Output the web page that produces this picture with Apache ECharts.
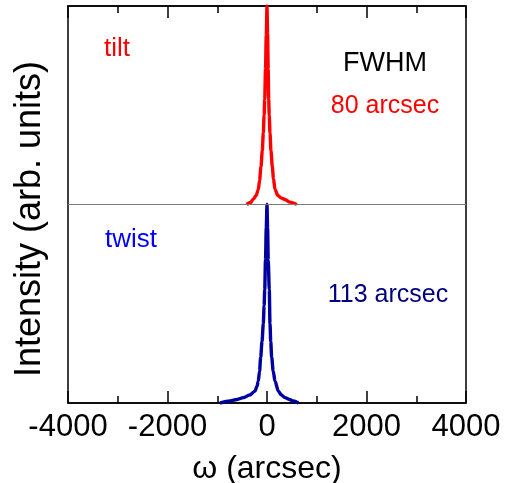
<!DOCTYPE html>
<html>
<head>
<meta charset="utf-8">
<script src="https://cdn.jsdelivr.net/npm/echarts@6/dist/echarts.min.js"></script>
<style>
  html, body { margin: 0; padding: 0; background: #ffffff; }
  #chart { width: 508px; height: 483px; }
</style>
</head>
<body>
<div id="chart"></div>
<script>
// Rocking curves: tilt (upper panel) and twist (lower panel), normalised intensity
const tiltOmega = [-410, -330, -280, -220, -175, -150, -121, -95, -74, -58, -46, -30, -15, 0, 12, 24, 34, 45, 60, 80, 107, 130, 161, 220, 290, 362, 460, 600];
const tiltIntensity = [0, 0.01, 0.025, 0.045, 0.075, 0.12, 0.19, 0.27, 0.36, 0.45, 0.53, 0.68, 0.85, 1.0, 0.86, 0.68, 0.53, 0.45, 0.36, 0.27, 0.19, 0.13, 0.075, 0.045, 0.032, 0.025, 0.012, 0];

const twistOmega = [-945, -744, -600, -476, -350, -241, -200, -175, -150, -127, -100, -74, -58, -46, -30, -15, 0, 12, 25, 46, 60, 75, 94, 125, 161, 228, 290, 362, 450, 529, 630];
const twistIntensity = [0, 0.01, 0.018, 0.027, 0.04, 0.06, 0.085, 0.11, 0.16, 0.23, 0.31, 0.40, 0.49, 0.57, 0.72, 0.88, 1.0, 0.88, 0.72, 0.57, 0.40, 0.31, 0.23, 0.16, 0.11, 0.06, 0.04, 0.027, 0.018, 0.01, 0];

// x tick labels, evenly spaced from min to max
const xTickLabels = ['-4000', '-2000', '0', '2000', '4000'];

// upper panel sits on top of the lower one, offset by one unit
const tiltOffset = 1;

const xTicks = { min: -4000, max: 4000, interval: 2000 };

const fontFamily = '"Liberation Sans", Arial, sans-serif';

const tiltData = tiltOmega.map((w, i) => [w, tiltIntensity[i] + tiltOffset]);
const twistData = twistOmega.map((w, i) => [w, twistIntensity[i]]);

const chart = echarts.init(document.getElementById('chart'), null, { renderer: 'canvas' });

const ticks = () => ({ show: true, inside: true, length: 12, lineStyle: { color: '#000', width: 1.5 } });
const minor = () => ({ show: true, splitNumber: 2, length: 7, lineStyle: { color: '#000', width: 1.5 } });

chart.setOption({
  animation: false,
  backgroundColor: '#ffffff',
  grid: [
    // plot area with its frame
    { left: 68, right: 42, top: 6, bottom: 80, containLabel: false, outerBoundsMode: 'none',
      show: true, borderColor: '#000', borderWidth: 1.5, backgroundColor: 'transparent' },
    // strip along the bottom edge that carries the tick labels and axis title
    { left: 68, right: 42, top: 402, height: 1, containLabel: false, outerBoundsMode: 'none', show: false }
  ],
  xAxis: [
    {
      type: 'value', gridIndex: 0, position: 'bottom',
      min: xTicks.min, max: xTicks.max, interval: xTicks.interval,
      axisLine: { show: true, lineStyle: { color: '#000', width: 1.5 } },
      axisTick: ticks(), minorTick: minor(),
      splitLine: { show: false }, axisLabel: { show: false }
    },
    {
      type: 'value', gridIndex: 0, position: 'top',
      min: xTicks.min, max: xTicks.max, interval: xTicks.interval,
      axisLine: { show: true, onZero: false, lineStyle: { color: '#000', width: 1.5 } },
      axisTick: ticks(), minorTick: minor(),
      splitLine: { show: false }, axisLabel: { show: false }
    },
    {
      type: 'category', gridIndex: 1, position: 'bottom', data: xTickLabels, boundaryGap: false,
      axisLine: { show: false }, axisTick: { show: false }, splitLine: { show: false },
      axisLabel: { show: true, interval: 0, color: '#000', fontSize: 31, fontFamily: fontFamily, margin: 9 },
      name: 'ω (arcsec)', nameLocation: 'middle', nameGap: 50,
      nameTextStyle: { color: '#000', fontSize: 32, fontFamily: fontFamily }
    }
  ],
  yAxis: [
    {
      type: 'value', gridIndex: 0, min: 0, max: 2,
      axisLine: { show: false }, axisTick: { show: false }, axisLabel: { show: false },
      splitLine: { show: false }
    },
    {
      type: 'value', gridIndex: 1, min: 0, max: 1,
      axisLine: { show: false }, axisTick: { show: false }, axisLabel: { show: false },
      splitLine: { show: false }
    }
  ],
  series: [
    {
      name: 'twist', type: 'line', data: twistData, xAxisIndex: 0, yAxisIndex: 0,
      showSymbol: false, smooth: 0.3, smoothMonotone: 'x', clip: false,
      lineStyle: { color: '#0000a0', width: 3.4 },
      markLine: {
        silent: true, symbol: 'none', label: { show: false },
        lineStyle: { color: '#7a7a7a', width: 1.2, type: 'solid' },
        data: [{ yAxis: tiltOffset }]
      }
    },
    {
      name: 'tilt', type: 'line', data: tiltData, xAxisIndex: 0, yAxisIndex: 0,
      showSymbol: false, smooth: 0.3, smoothMonotone: 'x', clip: false,
      lineStyle: { color: '#ff0000', width: 3.4 }
    }
  ],
  graphic: [
    { type: 'text', x: 30, y: 219, rotation: Math.PI / 2,
      style: { text: 'Intensity (arb. units)', fill: '#000', font: '36px ' + fontFamily, align: 'center', verticalAlign: 'middle' } },
    { type: 'text', left: 104, top: 36, style: { text: 'tilt', fill: '#ff0000', font: '26px ' + fontFamily } },
    { type: 'text', x: 385, y: 64, style: { text: 'FWHM', fill: '#000', font: '27px ' + fontFamily, align: 'center', verticalAlign: 'middle' } },
    { type: 'text', x: 385, y: 106, style: { text: '80 arcsec', fill: '#ff0000', font: '25px ' + fontFamily, align: 'center', verticalAlign: 'middle' } },
    { type: 'text', left: 105, top: 227, style: { text: 'twist', fill: '#0000ff', font: '26px ' + fontFamily } },
    { type: 'text', x: 388, y: 295, style: { text: '113 arcsec', fill: '#000080', font: '25px ' + fontFamily, align: 'center', verticalAlign: 'middle' } }
  ]
});
</script>
</body>
</html>
